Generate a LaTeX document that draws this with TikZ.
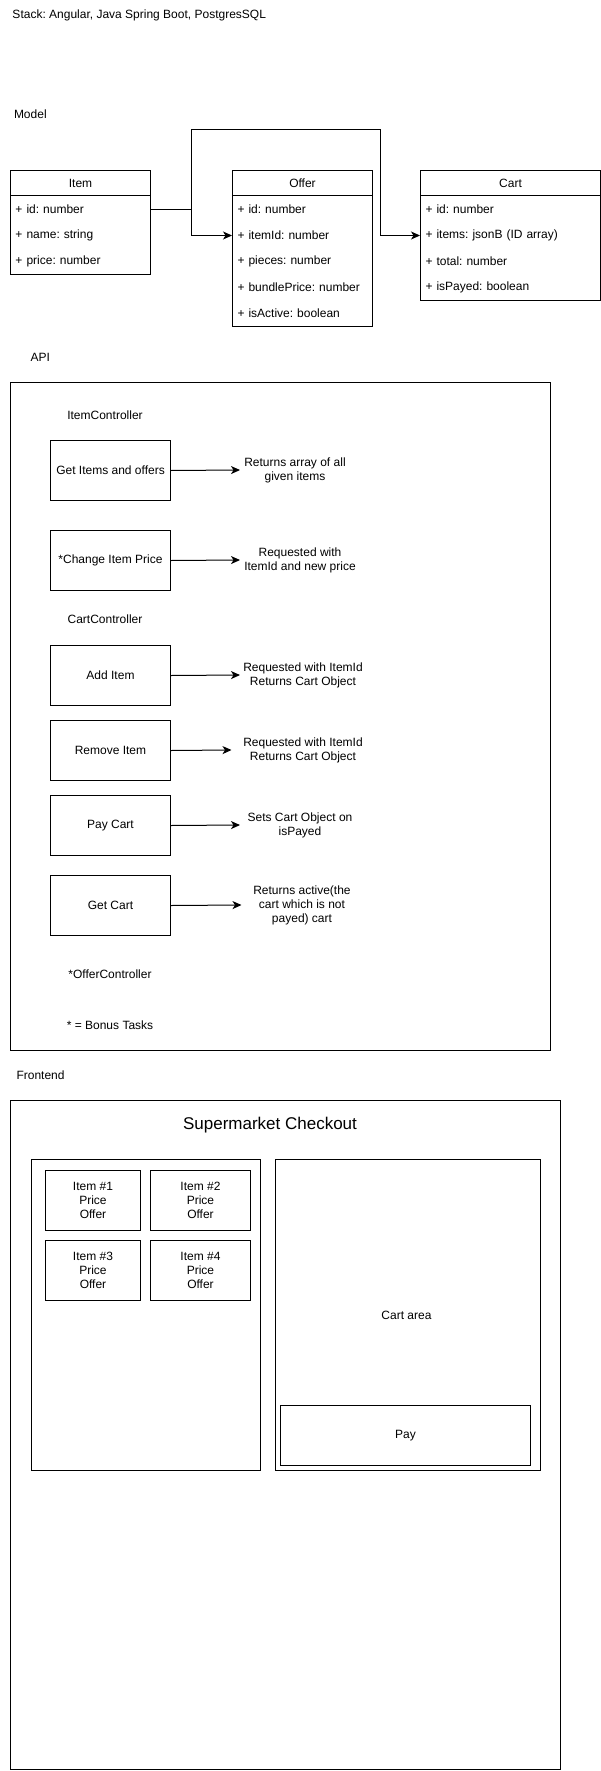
\documentclass[tikz,border=0pt]{standalone}
\usepackage{fontspec}
\setmainfont{Liberation Sans}
\usetikzlibrary{arrows.meta,calc}
\frenchspacing
\begin{document}
\begin{tikzpicture}[x=1pt,y=-1pt,
  font=\fontsize{12}{14}\selectfont,
  line width=1pt,
  box/.style={draw, line width=1pt, inner sep=0pt, anchor=north west},
  row/.style={inner xsep=5pt, inner ysep=0pt, minimum height=26pt, text width=#1, align=left, anchor=north west},
  lbl/.style={inner sep=0pt},
  conn/.style={draw, line width=1pt, -{Stealth[length=9pt,width=8pt,inset=2.5pt]}},
  ctrl/.style={draw, line width=1pt, minimum width=120pt, minimum height=60pt, inner sep=0pt, anchor=north west, align=center},
  res/.style={inner sep=0pt, align=center, anchor=west},
  tile/.style={draw, line width=1pt, inner sep=0pt, anchor=north west, align=center}
]
\useasboundingbox (0,0) rectangle (601,1771);

% ---------- header texts ----------
\node[lbl, anchor=west] (stack) at (12,15) {Stack: Angular, Java Spring Boot, PostgresSQL};
\node[lbl, anchor=west] (model) at (13.5,114) {Model};

% ---------- Item class ----------
\node[box, minimum width=140pt, minimum height=104pt] (item) at (10,170) {};
\node[lbl] (itemT) at ($(item.north)+(0,13)$) {Item};
\draw ($(item.north west)+(0,26)$) -- ($(item.north east)+(0,26)$);
\node[row=130pt] (item-id) at (10,196) {+ id: number};
\node[row=130pt] (item-name) at (10,222) {+ name: string};
\node[row=130pt] (item-price) at (10,248) {+ price: number};

% ---------- Offer class ----------
\node[box, minimum width=140pt, minimum height=156pt] (offer) at (232,170) {};
\node[lbl] (offerT) at ($(offer.north)+(0,13)$) {Offer};
\draw ($(offer.north west)+(0,26)$) -- ($(offer.north east)+(0,26)$);
\node[row=130pt] (offer-id) at (232,196) {+ id: number};
\node[row=130pt] (offer-itemid) at (232,222) {+ itemId: number};
\node[row=130pt] (offer-pieces) at (232,248) {+ pieces: number};
\node[row=130pt] (offer-bundle) at (232,274) {+ bundlePrice: number};
\node[row=130pt] (offer-active) at (232,300) {+ isActive: boolean};

% ---------- Cart class ----------
\node[box, minimum width=180pt, minimum height=130pt] (cart) at (420,170) {};
\node[lbl] (cartT) at ($(cart.north)+(0,13)$) {Cart};
\draw ($(cart.north west)+(0,26)$) -- ($(cart.north east)+(0,26)$);
\node[row=170pt] (cart-id) at (420,196) {+ id: number};
\node[row=170pt] (cart-items) at (420,222) {+ items: jsonB (ID array)};
\node[row=170pt] (cart-total) at (420,248) {+ total: number};
\node[row=170pt] (cart-payed) at (420,274) {+ isPayed: boolean};

% ---------- Model connectors ----------
\draw[conn] (item-id.east) -- ++(40,0) |- (offer-itemid.west);
\draw[conn] (item-id.east) -- ++(40,0) |- (380,130) |- (cart-items.west);

% ---------- API ----------
\node[lbl, anchor=west] (apiL) at (30,357) {API};
\node[box, minimum width=540pt, minimum height=668pt] (api) at (10,382) {};
\node[lbl] (itemctl) at (105,415) {ItemController};
\node[ctrl] (getitems) at (50,440) {Get Items and offers};
\node[ctrl] (changeprice) at (50,530) {*Change Item Price};
\node[lbl] (cartctl) at (105,619) {CartController};
\node[ctrl] (additem) at (50,645) {Add Item};
\node[ctrl] (removeitem) at (50,720) {Remove Item};
\node[ctrl] (paycart) at (50,795) {Pay Cart};
\node[ctrl] (getcart) at (50,875) {Get Cart};
\node[lbl] (offerctl) at (110,974) {*OfferController};
\node[lbl] (bonus) at (110,1025) {* = Bonus Tasks};

\node[res, minimum width=109pt] (r1) at (240,470) {Returns array of all\\given items};
\node[res, minimum width=119pt] (r2) at (240,560) {Requested with\\ItemId and new price};
\node[res, minimum width=125pt] (r3) at (240,675) {Requested with ItemId\\Returns Cart Object};
\node[res, minimum width=142pt] (r4) at (231.5,750) {Requested with ItemId\\Returns Cart Object};
\node[res, minimum width=119pt] (r5) at (240,825) {Sets Cart Object on\\isPayed};
\node[res, minimum width=120pt] (r6) at (241.5,905) {Returns active(the\\cart which is not\\payed) cart};

\draw[conn] (getitems.east) -- (r1.west);
\draw[conn] (changeprice.east) -- (r2.west);
\draw[conn] (additem.east) -- (r3.west);
\draw[conn] (removeitem.east) -- (r4.west);
\draw[conn] (paycart.east) -- (r5.west);
\draw[conn] (getcart.east) -- (r6.west);

% ---------- Frontend ----------
\node[lbl, anchor=west] (feL) at (16,1075) {Frontend};
\node[box, minimum width=550pt, minimum height=669pt] (fe) at (10,1100) {};
\node[lbl, font=\fontsize{17}{20}\selectfont] (title) at (270,1125) {Supermarket Checkout};
\node[box, minimum width=229.5pt, minimum height=311pt] (left) at (30.5,1159) {};
\node[box, minimum width=265.5pt, minimum height=311pt] (right) at (274.5,1159) {};
\node[tile, minimum width=95pt, minimum height=60pt] (i1) at (45,1170) {Item \#1\\Price\\Offer};
\node[tile, minimum width=100pt, minimum height=60pt] (i2) at (150,1170) {Item \#2\\Price\\Offer};
\node[tile, minimum width=95pt, minimum height=60pt] (i3) at (45,1240) {Item \#3\\Price\\Offer};
\node[tile, minimum width=100pt, minimum height=60pt] (i4) at (150,1240) {Item \#4\\Price\\Offer};
\node[lbl] (cartarea) at (406.5,1315) {Cart area};
\node[tile, minimum width=250pt, minimum height=60pt] (pay) at (280,1405) {Pay};
\end{tikzpicture}
\end{document}
